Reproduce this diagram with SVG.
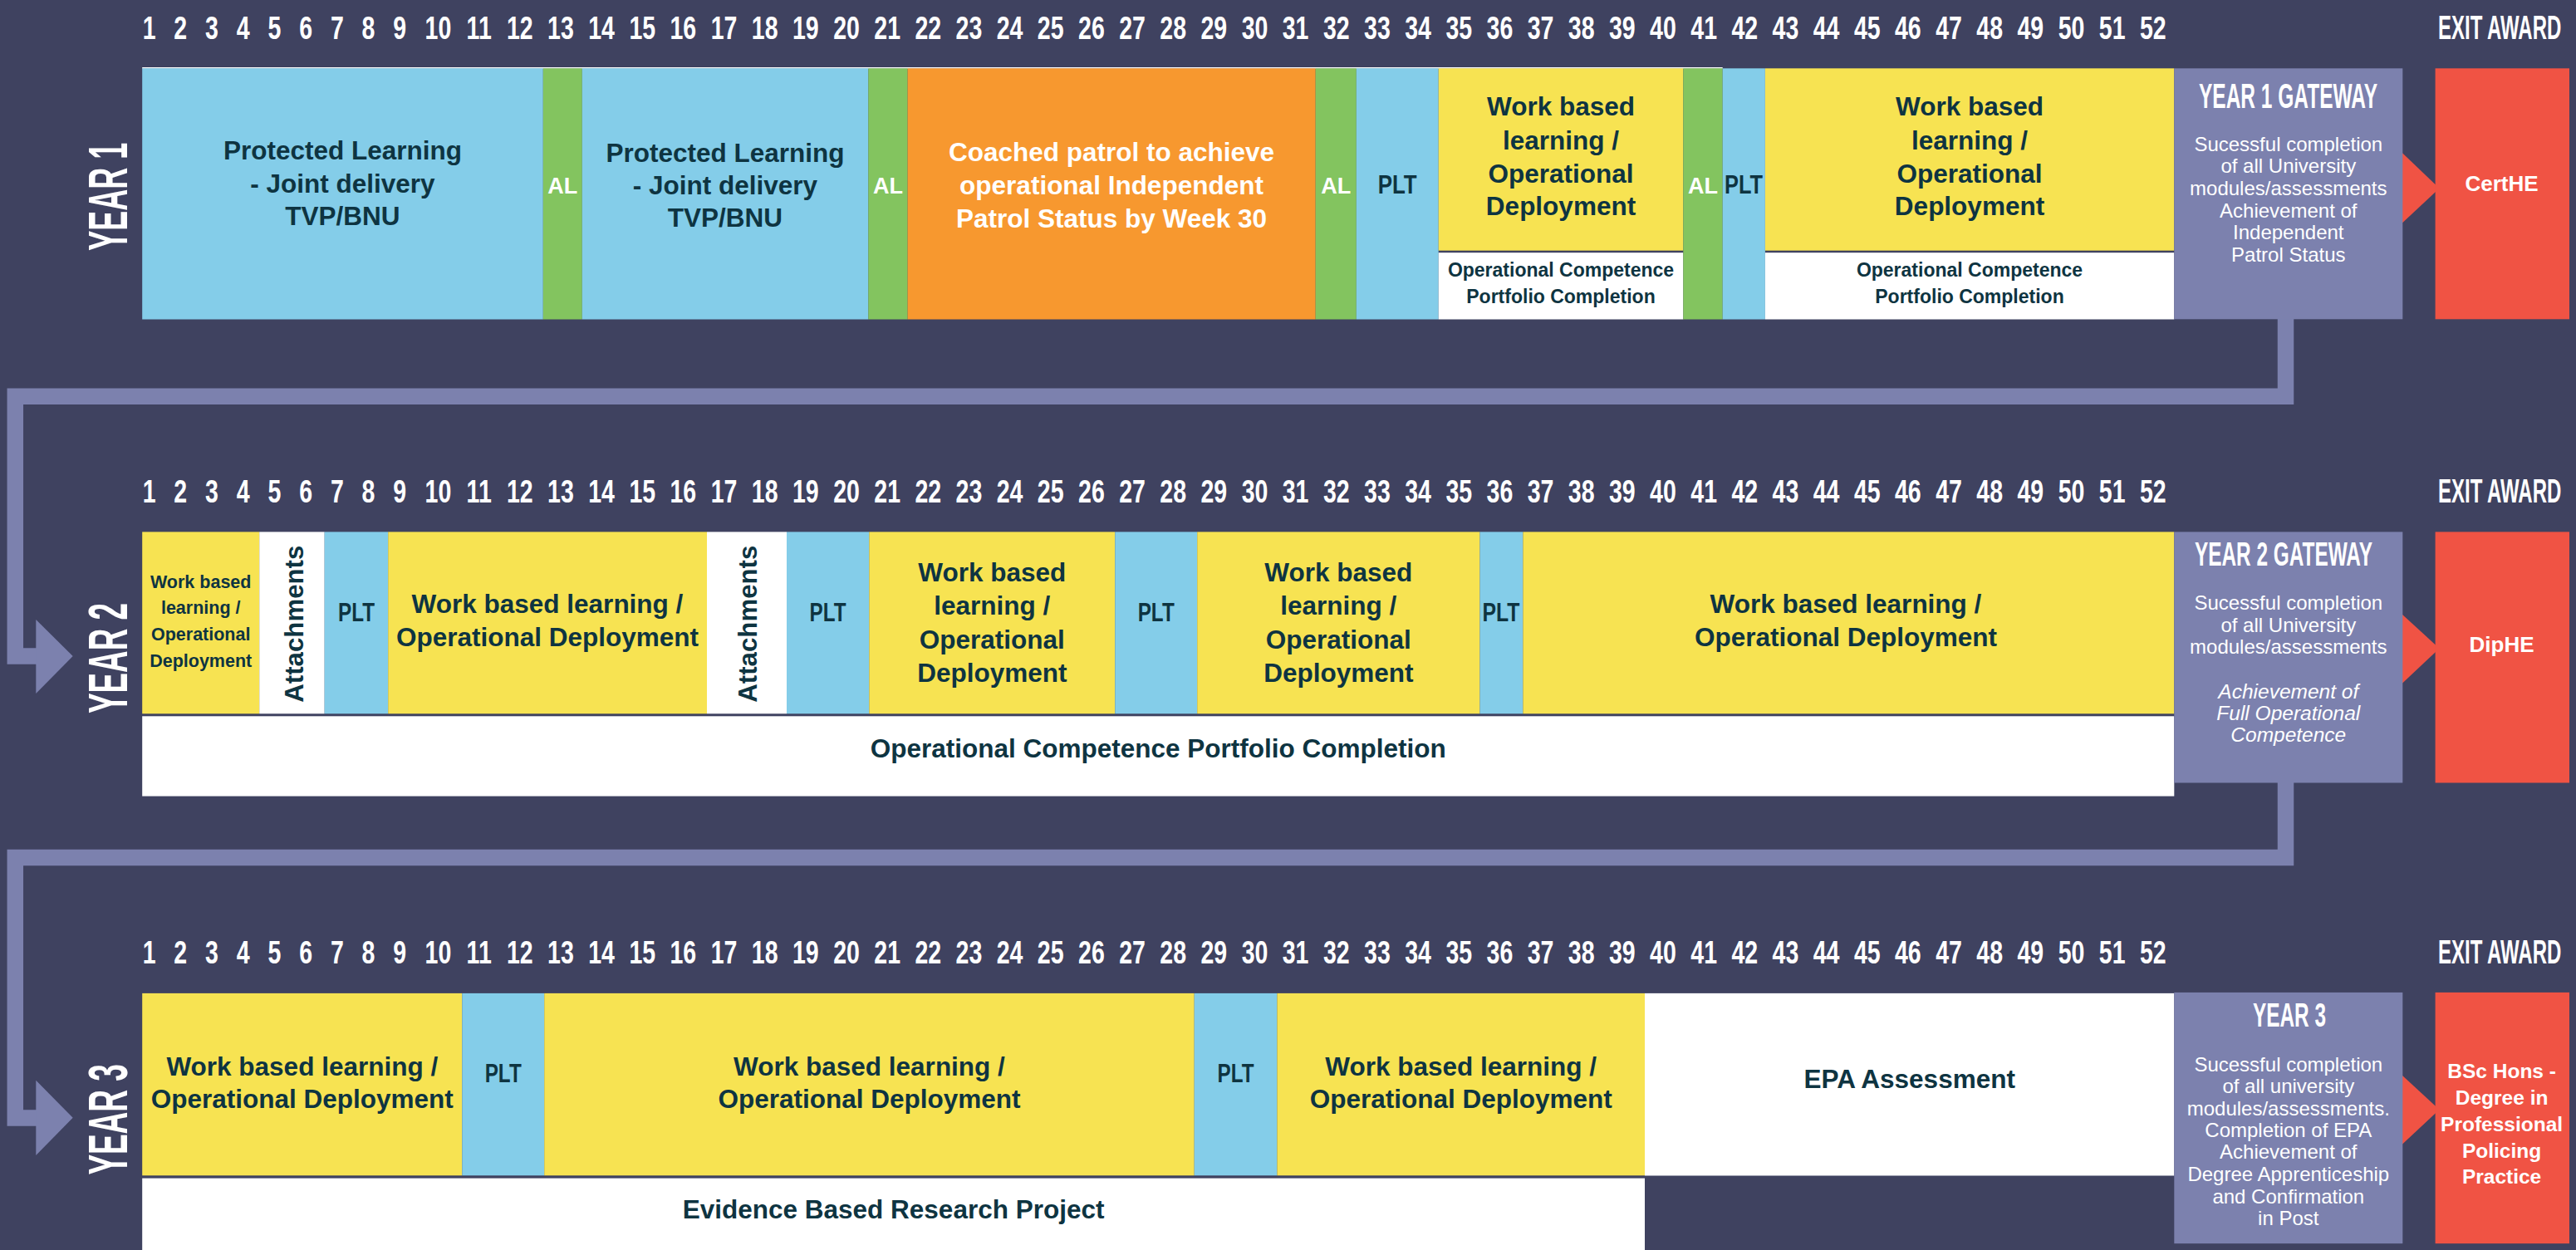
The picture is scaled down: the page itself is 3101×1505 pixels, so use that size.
<svg xmlns="http://www.w3.org/2000/svg" width="3101" height="1505" viewBox="0 0 3101 1505">
<style>
.bg{fill:#3f4260}
.blue{fill:#84cde9}
.green{fill:#83c45f}
.orange{fill:#f7982f}
.yellow{fill:#f7e352}
.white{fill:#ffffff}
.gate{fill:#7c81ae}
.red{fill:#f05344}
.wk text{font-family:"Liberation Sans",Arial,sans-serif;font-weight:700;font-size:38px;fill:#ffffff;text-anchor:middle}
.t{font-family:"Liberation Sans",Arial,sans-serif;font-weight:700;font-size:31.5px;fill:#0e3441;text-anchor:middle}
.s{font-size:23px}
.xs{font-size:21.5px}
.tw{fill:#ffffff}
.al{font-family:"Liberation Sans",Arial,sans-serif;font-weight:700;font-size:27px;fill:#ffffff;text-anchor:middle}
.head{font-family:"Liberation Sans",Arial,sans-serif;font-weight:700;fill:#ffffff}
.body{font-family:"Liberation Sans",Arial,sans-serif;font-weight:400;font-size:24px;fill:#ffffff;text-anchor:middle}
.it{font-style:italic;font-size:24.5px}
.award{font-family:"Liberation Sans",Arial,sans-serif;font-weight:700;fill:#ffffff;text-anchor:middle}
.conn{fill:none;stroke:#7c81ae;stroke-width:19.5;stroke-linejoin:miter;stroke-linecap:butt}
.connhead{fill:#7c81ae}
.redhead{fill:#f05344}
</style>
<defs>
<g id="weeks" class="wk"><g transform="scale(0.75,1)">
<text x="239.5">1</text><text x="289.7">2</text><text x="340">3</text><text x="390.3">4</text><text x="440.5">5</text><text x="490.8">6</text><text x="541.1">7</text><text x="591.3">8</text><text x="641.6">9</text>
<text x="703.3">10</text><text x="768.9">11</text><text x="834.4">12</text><text x="899.9">13</text><text x="965.5">14</text><text x="1031">15</text><text x="1096.5">16</text><text x="1162.1">17</text><text x="1227.6">18</text><text x="1293.1">19</text>
<text x="1358.7">20</text><text x="1424.2">21</text><text x="1489.7">22</text><text x="1555.3">23</text><text x="1620.8">24</text><text x="1686.3">25</text><text x="1751.9">26</text><text x="1817.4">27</text><text x="1882.9">28</text><text x="1948.5">29</text>
<text x="2014">30</text><text x="2079.5">31</text><text x="2145.1">32</text><text x="2210.6">33</text><text x="2276.1">34</text><text x="2341.7">35</text><text x="2407.2">36</text><text x="2472.7">37</text><text x="2538.3">38</text><text x="2603.8">39</text>
<text x="2669.3">40</text><text x="2734.9">41</text><text x="2800.4">42</text><text x="2865.9">43</text><text x="2931.5">44</text><text x="2997">45</text><text x="3062.5">46</text><text x="3128.1">47</text><text x="3193.6">48</text><text x="3259.1">49</text>
<text x="3324.7">50</text><text x="3390.2">51</text><text x="3455.7">52</text>
</g></g>
</defs>
<rect class="bg" x="0" y="0" width="3101" height="1505"/>

<g id="week-numbers">
<use href="#weeks" y="46.8"/>
<use href="#weeks" y="604.6"/>
<use href="#weeks" y="1159.8"/>
</g>
<g id="exit-award-labels" class="head" font-size="41">
<text transform="translate(2935,46.8) scale(0.585,1)">EXIT AWARD</text>
<text transform="translate(2935,604.6) scale(0.585,1)">EXIT AWARD</text>
<text transform="translate(2935,1159.8) scale(0.585,1)">EXIT AWARD</text>
</g>

<g id="connectors">
<path class="conn" d="M2751.5 384 V477.2 H18.3 V790 H48"/>
<polygon class="connhead" points="43.3,746 87.7,790 43.3,835"/>
<path class="conn" d="M2751.5 942 V1032.4 H18.3 V1346 H48"/>
<polygon class="connhead" points="43.3,1300.7 87.7,1345.8 43.3,1391"/>
<polygon class="redhead" points="2891,183.3 2936.5,226.7 2891,269.3"/>
<polygon class="redhead" points="2891,738.9 2936.5,780.7 2891,823.6"/>
<polygon class="redhead" points="2891,1294 2936.5,1335.9 2891,1378.4"/>
</g>

<!-- YEAR 1 -->
<g id="y1-label"><text class="head" font-size="66" transform="translate(152.9,301.7) rotate(-90)" textLength="130" lengthAdjust="spacingAndGlyphs">YEAR 1</text></g>
<g id="y1-topline"><rect class="white" x="171.2" y="81" width="1902.5" height="1.6"/></g>
<g id="y1-protected-1">
<rect class="blue" x="171.2" y="82.3" width="482.6" height="302.2"/>
<text class="t"><tspan x="412.5" y="191.7">Protected Learning</tspan><tspan x="412.5" y="231.5">- Joint delivery</tspan><tspan x="412.5" y="271">TVP/BNU</tspan></text>
</g>
<g id="y1-al-1"><rect class="green" x="653.8" y="82.3" width="47" height="302.2"/><text class="al" x="677.3" y="233.3">AL</text></g>
<g id="y1-protected-2">
<rect class="blue" x="700.8" y="82.3" width="344.5" height="302.2"/>
<text class="t"><tspan x="873" y="195">Protected Learning</tspan><tspan x="873" y="234">- Joint delivery</tspan><tspan x="873" y="273.3">TVP/BNU</tspan></text>
</g>
<g id="y1-al-2"><rect class="green" x="1045.3" y="82.3" width="47.3" height="302.2"/><text class="al" x="1069" y="233.3">AL</text></g>
<g id="y1-coached">
<rect class="orange" x="1092.6" y="82.3" width="491.1" height="302.2"/>
<text class="t tw"><tspan x="1338" y="194.3">Coached patrol to achieve</tspan><tspan x="1338" y="234.3">operational Independent</tspan><tspan x="1338" y="274">Patrol Status by Week 30</tspan></text>
</g>
<g id="y1-al-3"><rect class="green" x="1583.7" y="82.3" width="49.1" height="302.2"/><text class="al" x="1608.2" y="233.3">AL</text></g>
<g id="y1-plt-1"><rect class="blue" x="1632.8" y="82.3" width="98.9" height="302.2"/><text class="t" x="1658.7" y="233.3" style="text-anchor:start" font-size="28" textLength="47" lengthAdjust="spacingAndGlyphs">PLT</text></g>
<g id="y1-wbl-1">
<rect class="yellow" x="1731.7" y="82.3" width="294.6" height="219.4"/>
<rect class="white" x="1731.7" y="304.2" width="294.6" height="80.3"/>
<text class="t"><tspan x="1879" y="139.3">Work based</tspan><tspan x="1879" y="180">learning /</tspan><tspan x="1879" y="220">Operational</tspan><tspan x="1879" y="259.3">Deployment</tspan></text>
<text class="t s"><tspan x="1879" y="333.3">Operational Competence</tspan><tspan x="1879" y="365">Portfolio Completion</tspan></text>
</g>
<g id="y1-al-4"><rect class="green" x="2026.3" y="82.3" width="47.4" height="302.2"/><text class="al" x="2050" y="233.3">AL</text></g>
<g id="y1-plt-2"><rect class="blue" x="2073.7" y="82.3" width="51.2" height="302.2"/><text class="t" x="2076" y="233.3" style="text-anchor:start" font-size="28" textLength="46" lengthAdjust="spacingAndGlyphs">PLT</text></g>
<g id="y1-wbl-2">
<rect class="yellow" x="2124.9" y="82.3" width="492.4" height="219.4"/>
<rect class="white" x="2124.9" y="304.2" width="492.4" height="80.3"/>
<text class="t"><tspan x="2371" y="139.3">Work based</tspan><tspan x="2371" y="180">learning /</tspan><tspan x="2371" y="220">Operational</tspan><tspan x="2371" y="259.3">Deployment</tspan></text>
<text class="t s"><tspan x="2371" y="333.3">Operational Competence</tspan><tspan x="2371" y="365">Portfolio Completion</tspan></text>
</g>
<g id="y1-gateway">
<rect class="gate" x="2617.3" y="82.3" width="275" height="302"/>
<text class="head" x="2647" y="130" font-size="42" textLength="215" lengthAdjust="spacingAndGlyphs">YEAR 1 GATEWAY</text>
<text class="body"><tspan x="2754.8" y="181.7">Sucessful completion</tspan><tspan x="2754.8" y="208.3">of all University</tspan><tspan x="2754.8" y="235">modules/assessments</tspan><tspan x="2754.8" y="261.7">Achievement of</tspan><tspan x="2754.8" y="288.3">Independent</tspan><tspan x="2754.8" y="315">Patrol Status</tspan></text>
</g>
<g id="y1-award">
<rect class="red" x="2931.6" y="82.3" width="161.4" height="302"/>
<text class="award" x="3011.6" y="230" font-size="26">CertHE</text>
</g>

<!-- YEAR 2 -->
<g id="y2-label"><text class="head" font-size="66" transform="translate(152.9,859) rotate(-90)" textLength="133" lengthAdjust="spacingAndGlyphs">YEAR 2</text></g>
<g id="y2-wbl-1">
<rect class="yellow" x="171.2" y="640.4" width="141" height="218.9"/>
<text class="t xs"><tspan x="241.7" y="707.5">Work based</tspan><tspan x="241.7" y="739.3">learning /</tspan><tspan x="241.7" y="771">Operational</tspan><tspan x="241.7" y="802.5">Deployment</tspan></text>
</g>
<g id="y2-attachments-1">
<rect class="white" x="312.2" y="640.4" width="78.5" height="218.9"/>
<text class="t" style="text-anchor:start" font-size="34" transform="translate(364.8,845.7) rotate(-90)" textLength="189" lengthAdjust="spacingAndGlyphs">Attachments</text>
</g>
<g id="y2-plt-1"><rect class="blue" x="390.7" y="640.4" width="76.5" height="218.9"/><text class="t" x="407" y="748" style="text-anchor:start" font-size="28" textLength="44" lengthAdjust="spacingAndGlyphs">PLT</text></g>
<g id="y2-wbl-2">
<rect class="yellow" x="467.2" y="640.4" width="383.8" height="218.9"/>
<text class="t"><tspan x="659" y="737.9">Work based learning /</tspan><tspan x="659" y="777.9">Operational Deployment</tspan></text>
</g>
<g id="y2-attachments-2">
<rect class="white" x="851" y="640.4" width="96" height="218.9"/>
<text class="t" style="text-anchor:start" font-size="34" transform="translate(910.6,845.7) rotate(-90)" textLength="189" lengthAdjust="spacingAndGlyphs">Attachments</text>
</g>
<g id="y2-plt-2"><rect class="blue" x="947" y="640.4" width="99.3" height="218.9"/><text class="t" x="974.6" y="748" style="text-anchor:start" font-size="28" textLength="44" lengthAdjust="spacingAndGlyphs">PLT</text></g>
<g id="y2-wbl-3">
<rect class="yellow" x="1046.3" y="640.4" width="296" height="218.9"/>
<text class="t"><tspan x="1194.3" y="700.4">Work based</tspan><tspan x="1194.3" y="740.4">learning /</tspan><tspan x="1194.3" y="780.7">Operational</tspan><tspan x="1194.3" y="820.7">Deployment</tspan></text>
</g>
<g id="y2-plt-3"><rect class="blue" x="1342.3" y="640.4" width="98.9" height="218.9"/><text class="t" x="1369.7" y="748" style="text-anchor:start" font-size="28" textLength="44" lengthAdjust="spacingAndGlyphs">PLT</text></g>
<g id="y2-wbl-4">
<rect class="yellow" x="1441.2" y="640.4" width="340.3" height="218.9"/>
<text class="t"><tspan x="1611.3" y="700.4">Work based</tspan><tspan x="1611.3" y="740.4">learning /</tspan><tspan x="1611.3" y="780.7">Operational</tspan><tspan x="1611.3" y="820.7">Deployment</tspan></text>
</g>
<g id="y2-plt-4"><rect class="blue" x="1781.5" y="640.4" width="51.9" height="218.9"/><text class="t" x="1784.5" y="748" style="text-anchor:start" font-size="28" textLength="45" lengthAdjust="spacingAndGlyphs">PLT</text></g>
<g id="y2-wbl-5">
<rect class="yellow" x="1833.4" y="640.4" width="783.9" height="218.9"/>
<text class="t"><tspan x="2222" y="737.9">Work based learning /</tspan><tspan x="2222" y="777.9">Operational Deployment</tspan></text>
</g>
<g id="y2-portfolio">
<rect class="white" x="171.2" y="862.3" width="2446.1" height="96.3"/>
<text class="t" x="1394.3" y="912">Operational Competence Portfolio Completion</text>
</g>
<g id="y2-gateway">
<rect class="gate" x="2617.3" y="640.4" width="275" height="302.1"/>
<text class="head" x="2642" y="681.4" font-size="40" textLength="214" lengthAdjust="spacingAndGlyphs">YEAR 2 GATEWAY</text>
<text class="body"><tspan x="2754.8" y="734.3">Sucessful completion</tspan><tspan x="2754.8" y="761">of all University</tspan><tspan x="2754.8" y="787">modules/assessments</tspan></text>
<text class="body it"><tspan x="2754.8" y="840.7">Achievement of</tspan><tspan x="2754.8" y="867">Full Operational</tspan><tspan x="2754.8" y="893.2">Competence</tspan></text>
</g>
<g id="y2-award">
<rect class="red" x="2931.6" y="640.4" width="161.4" height="302.1"/>
<text class="award" x="3011.6" y="785" font-size="26">DipHE</text>
</g>

<!-- YEAR 3 -->
<g id="y3-label"><text class="head" font-size="66" transform="translate(152.9,1414.6) rotate(-90)" textLength="133.3" lengthAdjust="spacingAndGlyphs">YEAR 3</text></g>
<g id="y3-wbl-1">
<rect class="yellow" x="171.2" y="1195.9" width="385.1" height="219.4"/>
<text class="t"><tspan x="363.8" y="1294.7">Work based learning /</tspan><tspan x="363.8" y="1333.9">Operational Deployment</tspan></text>
</g>
<g id="y3-plt-1"><rect class="blue" x="556.3" y="1195.9" width="98.9" height="219.4"/><text class="t" x="583.7" y="1303" style="text-anchor:start" font-size="28" textLength="44" lengthAdjust="spacingAndGlyphs">PLT</text></g>
<g id="y3-wbl-2">
<rect class="yellow" x="655.2" y="1195.9" width="782.5" height="219.4"/>
<text class="t"><tspan x="1046.5" y="1294.7">Work based learning /</tspan><tspan x="1046.5" y="1333.9">Operational Deployment</tspan></text>
</g>
<g id="y3-plt-2"><rect class="blue" x="1437.7" y="1195.9" width="99.7" height="219.4"/><text class="t" x="1465.5" y="1303" style="text-anchor:start" font-size="28" textLength="44" lengthAdjust="spacingAndGlyphs">PLT</text></g>
<g id="y3-wbl-3">
<rect class="yellow" x="1537.4" y="1195.9" width="442.6" height="219.4"/>
<text class="t"><tspan x="1758.7" y="1294.7">Work based learning /</tspan><tspan x="1758.7" y="1333.9">Operational Deployment</tspan></text>
</g>
<g id="y3-epa">
<rect class="white" x="1980" y="1195.9" width="637.3" height="219.6"/>
<text class="t" x="2298.7" y="1309.8" font-size="30">EPA Assessment</text>
</g>
<g id="y3-research">
<rect class="white" x="171.2" y="1418.6" width="1808.8" height="86.4"/>
<text class="t" x="1075.6" y="1467.1">Evidence Based Research Project</text>
</g>
<g id="y3-gateway">
<rect class="gate" x="2617.3" y="1194.9" width="275" height="302.3"/>
<text class="head" x="2712" y="1236.1" font-size="40" textLength="88" lengthAdjust="spacingAndGlyphs">YEAR 3</text>
<text class="body"><tspan x="2754.8" y="1289.6">Sucessful completion</tspan><tspan x="2754.8" y="1315.9">of all university</tspan><tspan x="2754.8" y="1342.5">modules/assessments.</tspan><tspan x="2754.8" y="1369.1">Completion of EPA</tspan><tspan x="2754.8" y="1395.3">Achievement of</tspan><tspan x="2754.8" y="1421.9">Degree Apprenticeship</tspan><tspan x="2754.8" y="1448.5">and Confirmation</tspan><tspan x="2754.8" y="1474.8">in Post</tspan></text>
</g>
<g id="y3-award">
<rect class="red" x="2931.6" y="1194.9" width="161.4" height="302.3"/>
<text class="award" font-size="24.5"><tspan x="3011.6" y="1298">BSc Hons -</tspan><tspan x="3011.6" y="1329.8">Degree in</tspan><tspan x="3011.6" y="1361.7">Professional</tspan><tspan x="3011.6" y="1393.5">Policing</tspan><tspan x="3011.6" y="1425.3">Practice</tspan></text>
</g>
</svg>
